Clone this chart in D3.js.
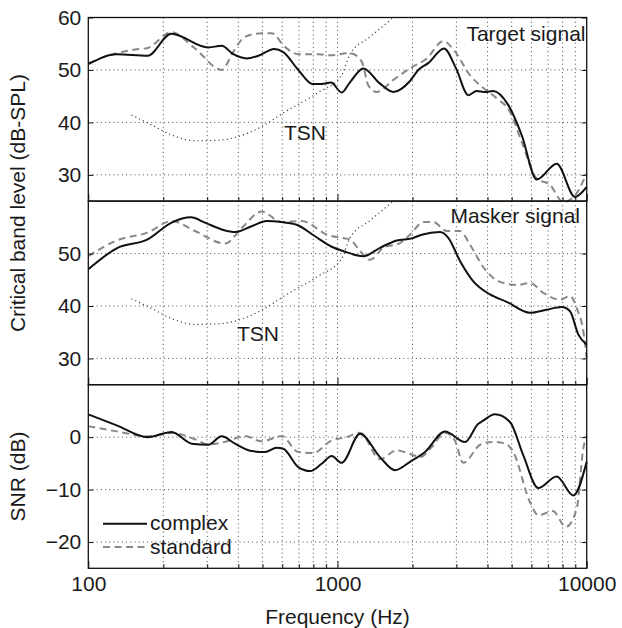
<!DOCTYPE html>
<html>
<head>
<meta charset="utf-8">
<script src="https://cdn.jsdelivr.net/npm/d3@7"></script>
<style>
  html, body { margin: 0; padding: 0; background: #fff; }
  svg { display: block; }
  text { font-family: "Liberation Sans", Arial, Helvetica, sans-serif; fill: #1a1a1a; }
</style>
</head>
<body>
<svg id="chart" width="622" height="628"></svg>
<script>
// ---------------- DATA ([frequency Hz, value]) ----------------
const targetComplex = [[100,51.1],[130,53.0],[173,52.7],[215,56.9],[303,54.3],[343,54.6],[382,53.0],[432,52.2],[481,52.7],[557,54.0],[606,53.4],[696,50.0],[795,47.3],[864,47.3],[942,47.6],[1039,45.7],[1120,47.6],[1270,50.3],[1481,47.4],[1675,45.8],[1954,47.9],[2110,50.0],[2313,51.3],[2675,54.1],[2990,50.3],[3350,45.2],[3620,46.0],[3908,45.8],[4219,46.0],[4846,43.3],[5483,37.6],[6302,29.1],[7579,32.1],[8977,25.8],[10000,27.7]];
const targetStandard = [[100,51.3],[130,53.2],[154,53.9],[173,54.2],[215,57.2],[268,54.1],[343,50.0],[382,53.5],[425,56.3],[496,57.0],[544,57.0],[615,54.4],[696,53.0],[837,53.0],[933,52.8],[1122,53.2],[1251,51.6],[1329,47.1],[1437,45.8],[1675,48.1],[1954,50.3],[2280,52.2],[2658,55.5],[2962,53.5],[3401,49.0],[3862,46.5],[4352,44.6],[4922,42.0],[5483,36.3],[6302,29.3],[7126,28.1],[8054,24.8],[8977,26.1],[10000,30.3]];
const maskerComplex = [[100,47.0],[130,51.0],[173,52.7],[216,55.9],[258,56.9],[294,55.9],[348,54.5],[388,54.1],[452,55.2],[520,56.2],[597,56.0],[686,55.5],[812,53.3],[948,51.3],[1065,50.4],[1270,49.5],[1481,51.1],[1728,52.5],[1985,52.9],[2177,53.6],[2578,54.1],[2784,53.0],[3101,48.6],[3508,44.7],[4093,42.2],[4775,40.8],[5922,38.7],[6911,39.3],[7938,39.8],[8570,39.0],[9250,34.6],[10000,32.6]];
const maskerStandard = [[100,49.5],[130,52.5],[173,54.0],[216,56.2],[268,54.3],[354,51.9],[413,54.9],[496,58.0],[597,56.0],[718,56.2],[918,53.5],[1065,52.9],[1122,52.7],[1231,50.5],[1350,48.8],[1527,51.1],[1781,52.0],[1954,53.6],[2209,56.0],[2424,56.0],[2742,54.3],[3101,54.3],[3401,51.7],[3862,47.3],[4488,44.6],[5238,44.0],[5922,44.4],[6698,42.5],[7813,41.2],[8570,41.9],[9120,39.6],[9690,35.2],[10000,30.1]];
const tsnLevel = [[149,41.4],[180,39.5],[216,37.6],[268,36.5],[332,36.6],[400,37.3],[496,39.2],[615,42.0],[837,45.7],[1039,49.0],[1122,53.0],[1350,56.3],[1625,59.5],[1800,61.5]];
const snrComplex = [[100,4.35],[130,2.25],[173,0.0],[216,1.0],[260,-1.25],[303,-1.44],[343,0.16],[388,-1.25],[452,-2.65],[512,-2.84],[570,-2.0],[606,-2.2],[696,-5.7],[776,-6.46],[864,-5.07],[948,-3.6],[1039,-4.9],[1231,0.65],[1481,-3.8],[1701,-6.3],[1954,-4.7],[2245,-2.84],[2700,1.1],[3248,-0.93],[3673,2.56],[3800,3.0],[4286,4.35],[4922,2.9],[5567,-3.47],[6394,-9.7],[7579,-7.5],[8839,-11.1],[10000,-4.7]];
const snrStandard = [[100,2.1],[130,1.1],[173,0.16],[216,0.8],[268,-0.4],[303,-1.4],[354,-0.9],[425,0.2],[496,-0.8],[597,0.2],[696,-2.84],[800,-3.0],[948,-0.6],[1089,0.03],[1231,0.85],[1481,-4.2],[1728,-2.5],[1954,-3.2],[2155,-3.8],[2388,-1.9],[2700,0.85],[2962,-0.7],[3195,-4.9],[3750,-1.4],[4219,-0.9],[4710,-1.2],[5070,-2.8],[5922,-12.4],[6394,-14.9],[7304,-14.1],[8254,-17.1],[9120,-13.6],[9690,-2.2],[10000,0.35]];

const xDomain = [100, 10000];
const xMajorTicks = [100, 1000, 10000];
const xTickLabels = ["100", "1000", "10000"];
const levelDomain = [25, 60];
const snrDomain = [-25, 10];
const targetTicks = [30, 40, 50, 60];
const maskerTicks = [30, 40, 50];
const snrTicks = [-20, -10, 0];
const legendLabels = ["complex", "standard"];

// ---------------- LAYOUT ----------------
const FS = 21;
const svg = d3.select("#chart");
const left = 88.3, right = 586.7, top0 = 17.5, ph = 183.6;
const x = d3.scaleLog().domain(xDomain).range([left, right]);
const minorTicks = [];
[100, 1000].forEach(d => { for (let k = 2; k <= 9; k++) minorTicks.push(d * k); });

const panels = [
  { top: top0, domain: levelDomain, ticks: targetTicks, series: [[targetStandard, "std"], [targetComplex, "cpx"]], tsn: true, title: "Target signal", titleX: 585.5, titleY: 41, tsnX: 284, tsnY: 140 },
  { top: top0 + ph, domain: levelDomain, ticks: maskerTicks, series: [[maskerStandard, "std"], [maskerComplex, "cpx"]], tsn: true, title: "Masker signal", titleX: 580, titleY: 223, tsnX: 237, tsnY: 340.7 },
  { top: top0 + 2 * ph, domain: snrDomain, ticks: snrTicks, series: [[snrStandard, "std"], [snrComplex, "cpx"]], tsn: false }
];

const defs = svg.append("defs");

panels.forEach((p, i) => {
  const y = d3.scaleLinear().domain(p.domain).range([p.top + ph, p.top]);
  const g = svg.append("g");
  const clipId = "clip" + i;
  defs.append("clipPath").attr("id", clipId).append("rect")
    .attr("x", left).attr("y", p.top).attr("width", right - left).attr("height", ph);

  // grid
  const grid = g.append("g").attr("stroke", "#333").attr("stroke-width", 0.9).attr("stroke-dasharray", "1,3.2");
  minorTicks.concat([1000]).forEach(f => {
    grid.append("line").attr("x1", x(f)).attr("x2", x(f)).attr("y1", p.top).attr("y2", p.top + ph);
  });
  p.ticks.forEach(t => {
    grid.append("line").attr("x1", left).attr("x2", right).attr("y1", y(t)).attr("y2", y(t));
  });

  // TSN dotted
  if (p.tsn) {
    g.append("path").datum(tsnLevel)
      .attr("clip-path", `url(#${clipId})`)
      .attr("fill", "none").attr("stroke", "#444").attr("stroke-width", 1.2)
      .attr("stroke-dasharray", "1.2,3")
      .attr("d", d3.line().x(d => x(d[0])).y(d => y(d[1])).curve(d3.curveMonotoneX));
    g.append("text").attr("x", p.tsnX).attr("y", p.tsnY).attr("font-size", FS).text("TSN");
  }

  // series
  p.series.forEach(([data, kind]) => {
    g.append("path").datum(data)
      .attr("fill", "none")
      .attr("stroke", kind === "cpx" ? "#111" : "#888")
      .attr("stroke-width", 2)
      .attr("stroke-dasharray", kind === "cpx" ? null : "7,4.5")
      .attr("stroke-linejoin", "round")
      .attr("d", d3.line().x(d => x(d[0])).y(d => y(d[1])).curve(d3.curveMonotoneX));
  });

  // y axis left (inward ticks)
  const ay = g.append("g").attr("transform", `translate(${left},0)`)
    .call(d3.axisLeft(y).tickValues(p.ticks).tickSize(-5).tickPadding(7).tickFormat(d3.format("d")));
  ay.select(".domain").remove();
  ay.selectAll("text").attr("font-size", FS).attr("font-family", "Liberation Sans, Arial, sans-serif").attr("fill", "#1a1a1a");
  ay.selectAll("line").attr("stroke", "#111");
  // right ticks
  const ayr = g.append("g").attr("transform", `translate(${right},0)`)
    .call(d3.axisRight(y).tickValues(p.ticks).tickSize(-5).tickFormat(""));
  ayr.select(".domain").remove();
  ayr.selectAll("line").attr("stroke", "#111");

  // x ticks bottom inward
  const isLast = i === panels.length - 1;
  const ax = g.append("g").attr("transform", `translate(0,${p.top + ph})`)
    .call(d3.axisBottom(x).tickValues(xMajorTicks).tickSize(-7).tickPadding(8)
      .tickFormat((d, k) => isLast ? xTickLabels[k] : ""));
  ax.select(".domain").remove();
  ax.selectAll("text").attr("font-size", FS).attr("font-family", "Liberation Sans, Arial, sans-serif").attr("fill", "#1a1a1a");
  ax.selectAll("line").attr("stroke", "#111");
  const axm = g.append("g").attr("transform", `translate(0,${p.top + ph})`)
    .call(d3.axisBottom(x).tickValues(minorTicks).tickSize(-4).tickFormat(""));
  axm.select(".domain").remove();
  axm.selectAll("line").attr("stroke", "#111");

  // frame
  g.append("rect").attr("x", left).attr("y", p.top).attr("width", right - left).attr("height", ph)
    .attr("fill", "none").attr("stroke", "#111").attr("stroke-width", 1.3);

  if (p.title) {
    g.append("text").attr("x", p.titleX).attr("y", p.titleY).attr("text-anchor", "end")
      .attr("font-size", FS).text(p.title);
  }
});

// legend
const leg = svg.append("g");
[[523.7, "#111", null, legendLabels[0], 530.3], [547, "#888", "7,4.5", legendLabels[1], 554.3]].forEach(([ly, c, dash, lab, ty]) => {
  leg.append("line").attr("x1", 103).attr("x2", 147).attr("y1", ly).attr("y2", ly)
    .attr("stroke", c).attr("stroke-width", 2).attr("stroke-dasharray", dash);
  leg.append("text").attr("x", 150).attr("y", ty).attr("font-size", FS).text(lab);
});

// axis titles
svg.append("text").attr("x", (left + right) / 2).attr("y", 624).attr("text-anchor", "middle")
  .attr("font-size", FS).text("Frequency (Hz)");
svg.append("text").attr("transform", `translate(25,${top0 + ph + 2}) rotate(-90)`).attr("text-anchor", "middle")
  .attr("font-size", FS).text("Critical band level (dB-SPL)");
svg.append("text").attr("transform", `translate(25,${top0 + 2.5 * ph}) rotate(-90)`).attr("text-anchor", "middle")
  .attr("font-size", FS).text("SNR (dB)");
</script>
</body>
</html>
